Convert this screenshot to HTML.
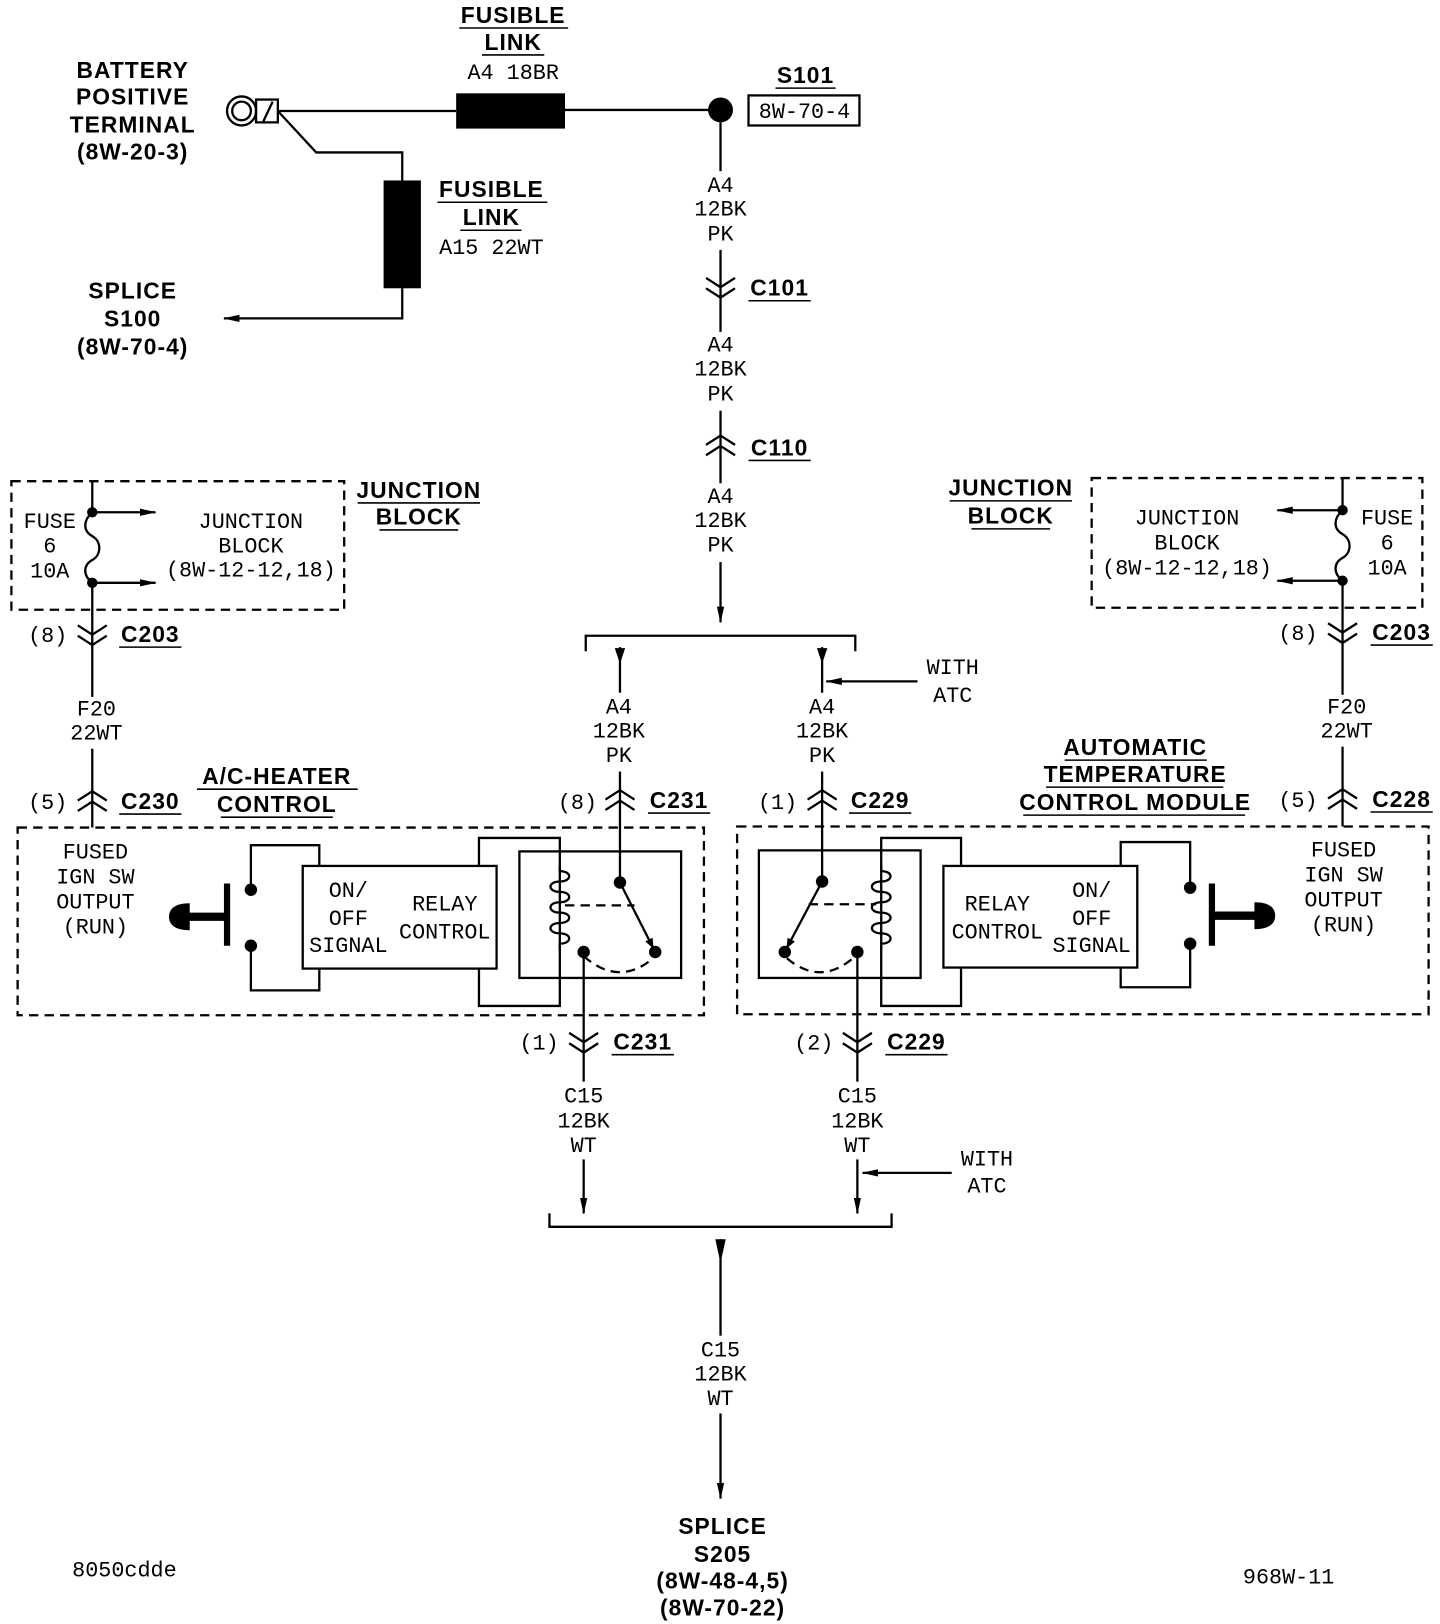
<!DOCTYPE html>
<html><head><meta charset="utf-8"><style>
html,body{margin:0;padding:0;background:#fff}
svg{display:block}
.t{font-family:"Liberation Mono","DejaVu Sans Mono",monospace;font-size:21px;fill:#000;text-anchor:middle}
.b{font-family:"Liberation Sans","DejaVu Sans",sans-serif;font-weight:bold;font-size:22px;fill:#000;text-anchor:middle;letter-spacing:1px}
.l{stroke:#000;stroke-width:2.2;fill:none}
.d{stroke:#000;stroke-width:2.2;fill:none;stroke-dasharray:9,6}
.u{stroke:#000;stroke-width:1.5}
</style></head><body>
<svg width="1440" height="1624" viewBox="0 0 1389 1566" preserveAspectRatio="none" xmlns="http://www.w3.org/2000/svg">
<defs>
<marker id="a" markerWidth="10" markerHeight="10" refX="9" refY="5" orient="auto" markerUnits="userSpaceOnUse"><path d="M0,1 L10,5 L0,9 Z" fill="#000"/></marker>
<marker id="al" viewBox="0 0 16 10" markerWidth="16" markerHeight="10" refX="15" refY="5" orient="auto" markerUnits="userSpaceOnUse"><path d="M0,1.5 L16,5 L0,8.5 Z" fill="#000"/></marker>
</defs>

<!-- Top headings -->
<text class="b" x="495" y="22">FUSIBLE</text><line class="u" x1="443" y1="27" x2="548" y2="27"/>
<text class="b" x="495" y="48">LINK</text><line class="u" x1="465" y1="53" x2="525" y2="53"/>
<text class="t" x="495" y="76">A4 18BR</text>
<text class="b" x="128" y="75">BATTERY</text>
<text class="b" x="128" y="101">POSITIVE</text>
<text class="b" x="128" y="128">TERMINAL</text>
<text class="b" x="128" y="154">(8W-20-3)</text>

<!-- battery terminal -->
<circle cx="233" cy="107" r="14" class="l" stroke-width="3"/>
<circle cx="233" cy="107" r="9" class="l" stroke-width="3"/>
<rect x="247" y="96" width="21" height="22" class="l" stroke-width="3"/>
<line x1="254" y1="117" x2="263" y2="98" class="l" stroke-width="3"/>
<line class="l" x1="268" y1="107" x2="440" y2="107"/>
<rect x="440" y="90" width="105" height="34" fill="#000"/>
<line class="l" x1="545" y1="106" x2="695" y2="106"/>
<circle cx="695" cy="106" r="12" fill="#000"/>
<text class="b" x="777" y="80">S101</text><line class="u" x1="748" y1="85" x2="806" y2="85"/>
<rect x="722" y="92" width="107" height="29" class="l" stroke-width="1.6"/>
<text class="t" x="776" y="114">8W-70-4</text>

<polyline class="l" points="268,107 305,147 388,147 388,174"/>
<rect x="370" y="174" width="36" height="104" fill="#000"/>
<polyline class="l" points="388,278 388,307 216,307" marker-end="url(#al)"/>
<text class="b" x="474" y="190">FUSIBLE</text><line class="u" x1="422" y1="195" x2="528" y2="195"/>
<text class="b" x="474" y="217">LINK</text><line class="u" x1="444" y1="222" x2="503" y2="222"/>
<text class="t" x="474" y="245">A15 22WT</text>
<text class="b" x="128" y="288">SPLICE</text>
<text class="b" x="128" y="315">S100</text>
<text class="b" x="128" y="342">(8W-70-4)</text>

<!-- center vertical -->
<line class="l" x1="695" y1="118" x2="695" y2="600" marker-end="url(#al)"/>
<rect x="672" y="165" width="46" height="76" fill="#fff"/>
<text class="t" x="695" y="185">A4</text><text class="t" x="695" y="208">12BK</text><text class="t" x="695" y="232">PK</text>
<rect x="672" y="320" width="46" height="76" fill="#fff"/>
<text class="t" x="695" y="339">A4</text><text class="t" x="695" y="362">12BK</text><text class="t" x="695" y="386">PK</text>
<rect x="672" y="466" width="46" height="76" fill="#fff"/>
<text class="t" x="695" y="485">A4</text><text class="t" x="695" y="508">12BK</text><text class="t" x="695" y="532">PK</text>
<!-- C101 down chevrons -->
<polyline class="l" points="681,268 695,277 709,268"/><polyline class="l" points="681,278 695,287 709,278"/>
<text class="b" x="752" y="285">C101</text><line class="u" x1="722" y1="290" x2="782" y2="290"/>
<!-- C110 up chevrons -->
<polyline class="l" points="681,429 695,420 709,429"/><polyline class="l" points="681,439 695,430 709,439"/>
<text class="b" x="752" y="439">C110</text><line class="u" x1="722" y1="444" x2="782" y2="444"/>

<!-- top bracket -->
<polyline class="l" points="565,628 565,613 825,613 825,628"/>
<line class="l" x1="598" y1="624" x2="598" y2="851"/>
<path d="M593,625 L603,625 L598,640 Z" fill="#000"/>
<line class="l" x1="793" y1="624" x2="793" y2="851"/>
<path d="M788,625 L798,625 L793,640 Z" fill="#000"/>
<line class="l" x1="885" y1="657" x2="797" y2="657" marker-end="url(#al)"/>
<text class="t" x="919" y="650">WITH</text><text class="t" x="919" y="677">ATC</text>
<rect x="570" y="668" width="56" height="76" fill="#fff"/>
<text class="t" x="597" y="688">A4</text><text class="t" x="597" y="711">12BK</text><text class="t" x="597" y="735">PK</text>
<rect x="765" y="668" width="56" height="76" fill="#fff"/>
<text class="t" x="793" y="688">A4</text><text class="t" x="793" y="711">12BK</text><text class="t" x="793" y="735">PK</text>
<polyline class="l" points="584,771 598,762 612,771"/><polyline class="l" points="584,781 598,772 612,781"/>
<text class="t" x="557" y="780">(8)</text>
<text class="b" x="655" y="779">C231</text><line class="u" x1="625" y1="784" x2="685" y2="784"/>
<polyline class="l" points="779,771 793,762 807,771"/><polyline class="l" points="779,781 793,772 807,781"/>
<text class="t" x="750" y="780">(1)</text>
<text class="b" x="849" y="779">C229</text><line class="u" x1="819" y1="784" x2="879" y2="784"/>

<!-- Left junction block -->
<rect x="11" y="464" width="321" height="124" class="d"/>
<line class="l" x1="89" y1="464" x2="89" y2="494"/>
<path class="l" d="M89,494 C80,502 80,512 89,517 C98,522 98,535 89,540 C80,545 80,555 89,562"/>
<line class="l" x1="89" y1="562" x2="89" y2="798"/>
<circle cx="89" cy="494" r="5" fill="#000"/><circle cx="89" cy="562" r="5" fill="#000"/>
<line class="l" x1="89" y1="494" x2="150" y2="494" marker-end="url(#al)"/>
<line class="l" x1="89" y1="562" x2="150" y2="562" marker-end="url(#al)"/>
<text class="t" x="48" y="509">FUSE</text><text class="t" x="48" y="533">6</text><text class="t" x="48" y="557">10A</text>
<text class="t" x="242" y="509">JUNCTION</text><text class="t" x="242" y="533">BLOCK</text><text class="t" x="242" y="556">(8W-12-12,18)</text>
<text class="b" x="404" y="480">JUNCTION</text><line class="u" x1="345" y1="485" x2="463" y2="485"/>
<text class="b" x="404" y="506">BLOCK</text><line class="u" x1="366" y1="511" x2="442" y2="511"/>
<polyline class="l" points="75,603 89,612 103,603"/><polyline class="l" points="75,613 89,622 103,613"/>
<text class="t" x="46" y="619">(8)</text>
<text class="b" x="145" y="619">C203</text><line class="u" x1="115" y1="624" x2="175" y2="624"/>
<rect x="60" y="672" width="60" height="50" fill="#fff"/>
<text class="t" x="93" y="690">F20</text><text class="t" x="93" y="713">22WT</text>
<polyline class="l" points="75,772 89,763 103,772"/><polyline class="l" points="75,782 89,773 103,782"/>
<text class="t" x="46" y="780">(5)</text>
<text class="b" x="145" y="780">C230</text><line class="u" x1="115" y1="785" x2="175" y2="785"/>
<text class="b" x="267" y="756">A/C-HEATER</text><line class="u" x1="190" y1="761" x2="345" y2="761"/>
<text class="b" x="267" y="783">CONTROL</text><line class="u" x1="213" y1="788" x2="321" y2="788"/>

<!-- Right junction block -->
<rect x="1053" y="461" width="319" height="125" class="d"/>
<line class="l" x1="1295" y1="461" x2="1295" y2="492"/>
<path class="l" d="M1295,492 C1286,500 1286,510 1295,515 C1304,520 1304,533 1295,538 C1286,543 1286,553 1295,560"/>
<line class="l" x1="1295" y1="560" x2="1295" y2="797"/>
<circle cx="1295" cy="492" r="5" fill="#000"/><circle cx="1295" cy="560" r="5" fill="#000"/>
<line class="l" x1="1295" y1="492" x2="1232" y2="492" marker-end="url(#al)"/>
<line class="l" x1="1295" y1="560" x2="1232" y2="560" marker-end="url(#al)"/>
<text class="t" x="1338" y="506">FUSE</text><text class="t" x="1338" y="530">6</text><text class="t" x="1338" y="554">10A</text>
<text class="t" x="1145" y="506">JUNCTION</text><text class="t" x="1145" y="530">BLOCK</text><text class="t" x="1145" y="554">(8W-12-12,18)</text>
<text class="b" x="975" y="478">JUNCTION</text><line class="u" x1="916" y1="483" x2="1034" y2="483"/>
<text class="b" x="975" y="505">BLOCK</text><line class="u" x1="937" y1="510" x2="1013" y2="510"/>
<polyline class="l" points="1281,601 1295,610 1309,601"/><polyline class="l" points="1281,611 1295,620 1309,611"/>
<text class="t" x="1252" y="617">(8)</text>
<text class="b" x="1352" y="617">C203</text><line class="u" x1="1322" y1="622" x2="1382" y2="622"/>
<rect x="1266" y="670" width="60" height="50" fill="#fff"/>
<text class="t" x="1299" y="688">F20</text><text class="t" x="1299" y="711">22WT</text>
<polyline class="l" points="1281,770 1295,761 1309,770"/><polyline class="l" points="1281,780 1295,771 1309,780"/>
<text class="t" x="1252" y="778">(5)</text>
<text class="b" x="1352" y="778">C228</text><line class="u" x1="1322" y1="783" x2="1382" y2="783"/>
<text class="b" x="1095" y="728">AUTOMATIC</text><line class="u" x1="1027" y1="733" x2="1164" y2="733"/>
<text class="b" x="1095" y="754">TEMPERATURE</text><line class="u" x1="1009" y1="759" x2="1180" y2="759"/>
<text class="b" x="1095" y="781">CONTROL  MODULE</text><line class="u" x1="987" y1="786" x2="1201" y2="786"/>

<!-- Left module -->
<rect x="17" y="798" width="662" height="181" class="d"/>
<text class="t" x="92" y="828">FUSED</text><text class="t" x="92" y="852">IGN SW</text><text class="t" x="92" y="876">OUTPUT</text><text class="t" x="92" y="900">(RUN)</text>
<path d="M183,871 C168,871 163,877 163,884 C163,891 168,897 183,897 Z" fill="#000"/>
<line x1="182" y1="884" x2="217" y2="884" stroke="#000" stroke-width="8"/>
<line x1="219" y1="852" x2="219" y2="912" stroke="#000" stroke-width="6"/>
<polyline class="l" points="242,858 242,815 308,815 308,835"/>
<polyline class="l" points="242,912 242,955 308,955 308,934"/>
<circle cx="242" cy="858" r="6" fill="#000"/><circle cx="242" cy="912" r="6" fill="#000"/>
<polyline class="l" points="462,835 462,808 540,808 540,970 462,970 462,934"/>
<rect x="292" y="835" width="187" height="99" fill="#fff" class="l"/>
<text class="t" x="336" y="865">ON/</text><text class="t" x="336" y="892">OFF</text><text class="t" x="336" y="918">SIGNAL</text>
<text class="t" x="429" y="878">RELAY</text><text class="t" x="429" y="905">CONTROL</text>
<rect x="501" y="821" width="156" height="122" class="l"/>
<path class="l" d="M540,835 L540,840 C552,840 552,850 540,850 C528,850 528,860 540,860 C552,860 552,870 540,870 C528,870 528,880 540,880 C552,880 552,890 540,890 C528,890 528,900 540,900 C552,900 552,910 540,910 L540,916" fill="#fff"/>
<line class="d" x1="545" y1="873" x2="612" y2="873" stroke-dasharray="8,5"/>
<line class="l" x1="598" y1="851" x2="630" y2="914" marker-end="url(#a)"/>
<circle cx="598" cy="851" r="6" fill="#000"/><circle cx="632" cy="918" r="6" fill="#000"/><circle cx="563" cy="918" r="6" fill="#000"/>
<path class="d" d="M563,922 Q597,952 630,924" stroke-dasharray="7,5"/>
<line class="l" x1="563" y1="918" x2="563" y2="1170" marker-end="url(#al)"/>
<polyline class="l" points="549,996 563,1005 577,996"/><polyline class="l" points="549,1006 563,1015 577,1006"/>
<text class="t" x="520" y="1012">(1)</text>
<text class="b" x="620" y="1012">C231</text><line class="u" x1="590" y1="1017" x2="650" y2="1017"/>
<rect x="533" y="1043" width="60" height="75" fill="#fff"/>
<text class="t" x="563" y="1063">C15</text><text class="t" x="563" y="1087">12BK</text><text class="t" x="563" y="1111">WT</text>

<!-- Right module -->
<rect x="711" y="797" width="667" height="181" class="d"/>
<text class="t" x="1296" y="826">FUSED</text><text class="t" x="1296" y="850">IGN SW</text><text class="t" x="1296" y="874">OUTPUT</text><text class="t" x="1296" y="898">(RUN)</text>
<path d="M1210,870 C1225,870 1230,876 1230,883 C1230,890 1225,896 1210,896 Z" fill="#000"/>
<line x1="1170" y1="883" x2="1211" y2="883" stroke="#000" stroke-width="8"/>
<line x1="1169" y1="852" x2="1169" y2="912" stroke="#000" stroke-width="6"/>
<polyline class="l" points="1148,856 1148,812 1081,812 1081,835"/>
<polyline class="l" points="1148,910 1148,952 1081,952 1081,933"/>
<circle cx="1148" cy="856" r="6" fill="#000"/><circle cx="1148" cy="910" r="6" fill="#000"/>
<polyline class="l" points="927,835 927,808 850,808 850,970 927,970 927,933"/>
<rect x="910" y="835" width="187" height="98" fill="#fff" class="l"/>
<text class="t" x="962" y="878">RELAY</text><text class="t" x="962" y="905">CONTROL</text>
<text class="t" x="1053" y="865">ON/</text><text class="t" x="1053" y="892">OFF</text><text class="t" x="1053" y="918">SIGNAL</text>
<rect x="732" y="820" width="156" height="123" class="l"/>
<path class="l" d="M850,835 L850,840 C862,840 862,850 850,850 C838,850 838,860 850,860 C862,860 862,870 850,870 C838,870 838,880 850,880 C862,880 862,890 850,890 C838,890 838,900 850,900 C862,900 862,910 850,910 L850,916" fill="#fff"/>
<line class="d" x1="780" y1="872" x2="845" y2="872" stroke-dasharray="8,5"/>
<line class="l" x1="793" y1="850" x2="759" y2="914" marker-end="url(#a)"/>
<circle cx="793" cy="850" r="6" fill="#000"/><circle cx="757" cy="918" r="6" fill="#000"/><circle cx="827" cy="918" r="6" fill="#000"/>
<path class="d" d="M759,924 Q792,952 825,922" stroke-dasharray="7,5"/>
<line class="l" x1="827" y1="918" x2="827" y2="1170" marker-end="url(#al)"/>
<polyline class="l" points="813,996 827,1005 841,996"/><polyline class="l" points="813,1006 827,1015 841,1006"/>
<text class="t" x="785" y="1012">(2)</text>
<text class="b" x="884" y="1012">C229</text><line class="u" x1="854" y1="1017" x2="914" y2="1017"/>
<rect x="797" y="1043" width="60" height="75" fill="#fff"/>
<text class="t" x="827" y="1063">C15</text><text class="t" x="827" y="1087">12BK</text><text class="t" x="827" y="1111">WT</text>
<line class="l" x1="918" y1="1131" x2="832" y2="1131" marker-end="url(#al)"/>
<text class="t" x="952" y="1124">WITH</text><text class="t" x="952" y="1150">ATC</text>

<!-- bottom bracket -->
<polyline class="l" points="530,1170 530,1183 860,1183 860,1170"/>
<path d="M690,1195 L700,1195 L695,1218 Z" fill="#000"/>
<line class="l" x1="695" y1="1195" x2="695" y2="1445" marker-end="url(#al)"/>
<rect x="665" y="1288" width="60" height="75" fill="#fff"/>
<text class="t" x="695" y="1308">C15</text><text class="t" x="695" y="1331">12BK</text><text class="t" x="695" y="1355">WT</text>
<text class="b" x="697" y="1479">SPLICE</text>
<text class="b" x="697" y="1506">S205</text>
<text class="b" x="697" y="1532">(8W-48-4,5)</text>
<text class="b" x="697" y="1558">(8W-70-22)</text>
<text class="t" x="120" y="1520">8050cdde</text>
<text class="t" x="1243" y="1527">968W-11</text>
</svg>
</body></html>
